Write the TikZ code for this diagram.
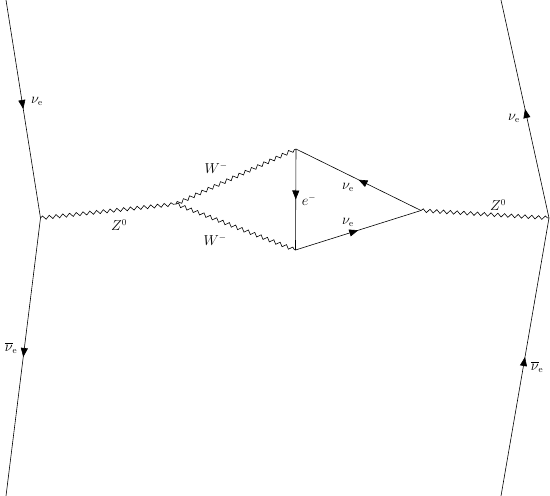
\documentclass[tikz,border=0pt]{standalone}
\usetikzlibrary{decorations.pathmorphing,decorations.markings,arrows.meta}
\begin{document}
\begin{tikzpicture}[x=1pt,y=-1pt,
  fermion/.style={draw,line width=0.6pt,postaction={decorate},
    decoration={markings,mark=at position 0.5 with {\arrow{Triangle[length=9pt,width=7pt]}}}},
  boson/.style={draw,line width=0.6pt,decorate,
    decoration={snake,amplitude=1.8pt,segment length=6.8pt}},
  lbl/.style={inner sep=1pt,font=\fontsize{13.5}{16}\selectfont}]
\useasboundingbox (0,0) rectangle (550,496);
% external points
\coordinate (tl) at (6,0);
\coordinate (bl) at (6,496);
\coordinate (tr) at (501,0);
\coordinate (br) at (501,496);
% vertices
\coordinate (vl) at (40.5,218);
\coordinate (vr) at (549,218);
\coordinate (vw) at (176,204);
\coordinate (wu) at (296,149);
\coordinate (wd) at (295.5,250);
\coordinate (vt) at (421,210.5);
% fermions
\draw[fermion] (tl) -- (vl);
\draw[fermion] (vl) -- (bl);
\draw[fermion] (vr) -- (tr);
\draw[fermion] (br) -- (vr);
\draw[fermion] (wu) -- (wd);
\draw[fermion] (vt) -- (wu);
\draw[fermion] (wd) -- (vt);
% bosons
\draw[boson] (vl) -- (vw);
\draw[boson] (vw) -- (wu);
\draw[boson] (vw) -- (wd);
\draw[boson] (vt) -- (vr);
% labels
\node[lbl] (l1) at (37,101) {$\nu_{\mathrm{e}}$};
\node[lbl] (l2) at (11,348) {$\overline{\nu}_{\mathrm{e}}$};
\node[lbl] (l3) at (514,118) {$\nu_{\mathrm{e}}$};
\node[lbl] (l4) at (537,367) {$\overline{\nu}_{\mathrm{e}}$};
\node[lbl] (l5) at (119,225) {$Z^0$};
\node[lbl] (l6) at (498,205) {$Z^0$};
\node[lbl] (l7) at (216,168) {$W^-$};
\node[lbl] (l8) at (215,240) {$W^-$};
\node[lbl] (l9) at (309,200) {$e^-$};
\node[lbl] (l10) at (348,187) {$\nu_{\mathrm{e}}$};
\node[lbl] (l11) at (348,222) {$\nu_{\mathrm{e}}$};
\end{tikzpicture}
\end{document}
